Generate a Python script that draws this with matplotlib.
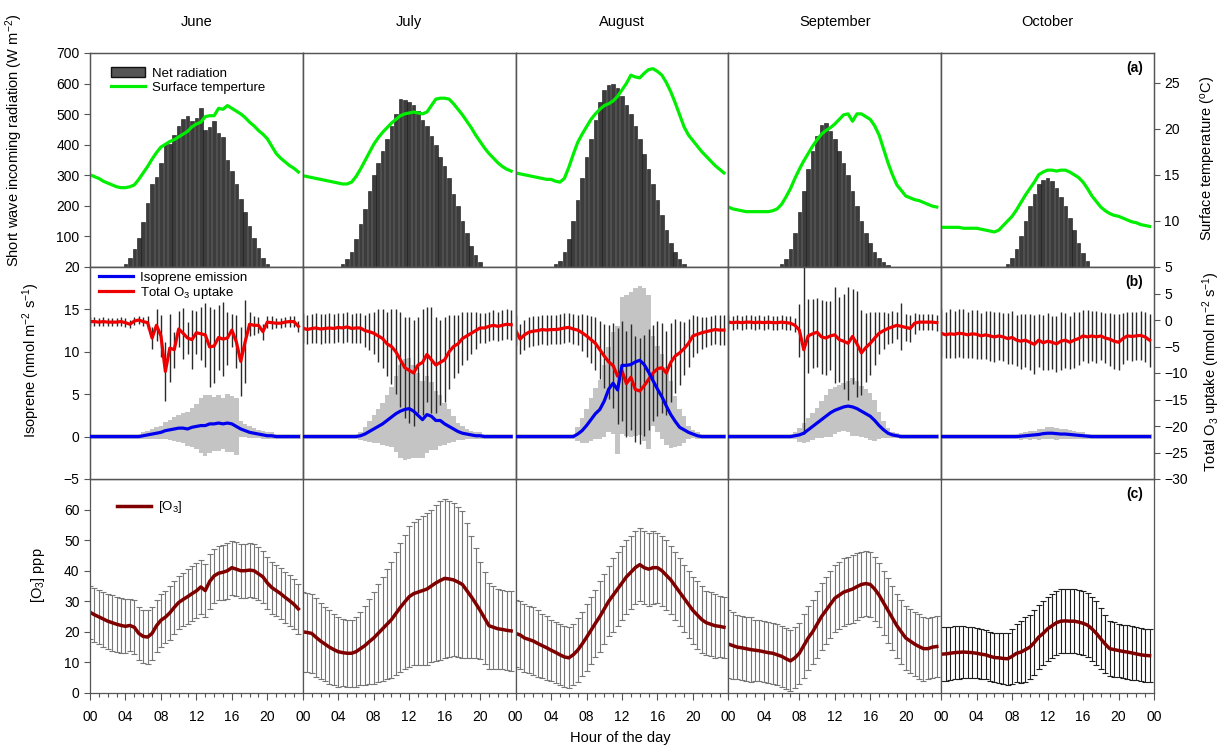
import numpy as np
import matplotlib
matplotlib.use('Agg')
import matplotlib.pyplot as plt
from matplotlib.lines import Line2D
from matplotlib.patches import Patch
from matplotlib.ticker import MultipleLocator

plt.rcParams['font.family'] = ['Liberation Sans', 'DejaVu Sans']
plt.rcParams['mathtext.fontset'] = 'custom'
plt.rcParams['mathtext.rm'] = 'Liberation Sans'
plt.rcParams['mathtext.it'] = 'Liberation Sans:italic'
plt.rcParams['mathtext.bf'] = 'Liberation Sans:bold'

months = ['June', 'July', 'August', 'September', 'October']
hours = np.arange(48) * 0.5
tick_hours = [0, 4, 8, 12, 16, 20]
tick_labels = ['00', '04', '08', '12', '16', '20']

def day(start_hour, values, fill=0.0):
    arr = np.full(48, fill)
    i = int(round(start_hour * 2))
    arr[i:i + len(values)] = values
    return arr

# ---------------- (a) net radiation (W m-2), daytime values from start hour
rad_jun = day(4.0, [11, 31, 59, 96, 147, 209, 272, 294, 341, 401, 401, 432, 460, 484, 495, 476, 488,
                    521, 449, 458, 478, 439, 426, 351, 315, 270, 223, 180, 134, 96, 62, 31, 9])
rad_jul = day(4.5, [10, 25, 50, 90, 140, 190, 250, 300, 340, 380, 420, 460, 500, 550, 545, 540, 530,
                    510, 480, 460, 430, 400, 360, 330, 290, 240, 200, 150, 110, 70, 40, 15])
rad_aug = day(4.5, [10, 20, 50, 90, 150, 220, 290, 360, 420, 480, 540, 580, 595, 600, 585, 560, 530,
                    500, 460, 420, 370, 320, 270, 220, 170, 120, 80, 50, 25, 10])
rad_sep = day(6.0, [10, 25, 60, 110, 180, 250, 320, 380, 430, 465, 470, 445, 420, 380, 340, 300, 250,
                    200, 150, 110, 80, 50, 30, 15, 5])
rad_oct = day(7.5, [10, 30, 60, 100, 150, 200, 240, 270, 285, 290, 280, 260, 230, 200, 160, 120, 80,
                    45, 20])

# surface temperature (deg C), half-hourly
temp_jun = [15.0, 14.8, 14.6, 14.3, 14.1, 13.9, 13.7, 13.6, 13.6, 13.7, 13.9, 14.5, 15.2, 15.9, 16.7, 17.4,
            18.0, 18.3, 18.6, 18.8, 19.1, 19.4, 19.7, 20.2, 20.5, 20.7, 21.3, 21.4, 21.4, 22.2, 22.1, 22.5,
            22.2, 21.9, 21.6, 21.2, 20.7, 20.3, 19.8, 19.4, 18.9, 18.1, 17.3, 16.8, 16.4, 16.0, 15.7, 15.3]
temp_jul = [14.9, 14.8, 14.7, 14.6, 14.5, 14.4, 14.3, 14.2, 14.1, 14.0, 14.0, 14.2, 14.8, 15.6, 16.5, 17.4,
            18.3, 19.0, 19.6, 20.1, 20.6, 21.0, 21.4, 21.6, 21.7, 21.8, 21.7, 21.6, 21.8, 22.5, 23.2, 23.3,
            23.3, 23.2, 22.7, 22.1, 21.5, 20.8, 20.1, 19.3, 18.6, 17.9, 17.3, 16.8, 16.3, 15.9, 15.6, 15.4]
temp_aug = [15.2, 15.1, 15.0, 14.9, 14.8, 14.7, 14.6, 14.5, 14.5, 14.3, 14.2, 14.6, 15.8, 17.2, 18.5, 19.4,
            20.2, 21.0, 21.6, 22.1, 22.5, 22.7, 23.0, 23.5, 24.2, 24.9, 25.8, 25.6, 25.5, 26.0, 26.4, 26.5,
            26.2, 25.8, 25.0, 24.0, 22.8, 21.5, 20.2, 19.3, 18.7, 18.1, 17.5, 17.0, 16.5, 16.0, 15.6, 15.2]
temp_sep = [11.5, 11.3, 11.2, 11.1, 11.0, 11.0, 11.0, 11.0, 11.0, 11.0, 11.1, 11.3, 11.8, 12.6, 13.5, 14.6,
            15.6, 16.5, 17.3, 18.1, 18.8, 19.4, 19.8, 20.1, 20.5, 21.0, 21.5, 21.6, 20.8, 21.6, 21.6, 21.3,
            21.0, 20.3, 19.3, 17.8, 16.3, 15.0, 13.9, 13.3, 12.7, 12.5, 12.3, 12.2, 12.0, 11.8, 11.6, 11.5]
temp_oct = [9.3, 9.3, 9.3, 9.3, 9.3, 9.2, 9.2, 9.2, 9.2, 9.1, 9.0, 8.9, 8.8, 9.0, 9.5, 10.0,
            10.5, 11.2, 12.0, 12.8, 13.5, 14.2, 15.0, 15.3, 15.5, 15.5, 15.4, 15.5, 15.5, 15.3, 15.0, 14.7,
            14.2, 13.5, 12.7, 12.1, 11.5, 11.1, 10.8, 10.6, 10.5, 10.3, 10.1, 9.9, 9.8, 9.6, 9.5, 9.4]

# ---------------- (b) isoprene emission (nmol m-2 s-1) and its SD
iso_jun = day(6.0, [0.1, 0.2, 0.3, 0.4, 0.5, 0.7, 0.8, 0.9, 1.0, 1.0, 0.9, 1.1, 1.2, 1.3, 1.3, 1.5, 1.5,
                    1.6, 1.5, 1.6, 1.5, 1.2, 0.9, 0.7, 0.5, 0.4, 0.3, 0.2, 0.1, 0.1])
iso_jul = day(6.5, [0.1, 0.3, 0.6, 0.9, 1.2, 1.5, 1.9, 2.3, 2.7, 3.0, 3.2, 3.3, 3.0, 2.5, 2.0, 2.6, 2.4,
                    1.9, 1.9, 1.5, 1.2, 0.9, 0.6, 0.4, 0.3, 0.2, 0.1, 0.1])
iso_aug = day(7.0, [0.3, 0.7, 1.3, 2.0, 2.7, 3.2, 4.2, 5.6, 6.3, 5.5, 8.4, 8.4, 8.5, 8.8, 9.0, 8.5, 7.6,
                    6.6, 5.6, 4.7, 3.6, 2.6, 1.8, 1.1, 0.8, 0.5, 0.3, 0.1])
iso_sep = day(7.5, [0.1, 0.2, 0.4, 0.8, 1.2, 1.6, 2.0, 2.4, 2.8, 3.1, 3.3, 3.5, 3.6, 3.5, 3.3, 3.0, 2.7,
                    2.4, 1.9, 1.3, 0.8, 0.4, 0.2, 0.1])
iso_oct = day(9.0, [0.05, 0.1, 0.15, 0.2, 0.25, 0.35, 0.4, 0.4, 0.35, 0.3, 0.3, 0.25, 0.2, 0.15, 0.1, 0.05])

isosd_jun = day(6.0, [0.4, 0.5, 0.6, 0.7, 0.8, 1.0, 1.2, 1.4, 1.6, 1.8, 2.0, 2.3, 2.7, 3.2, 3.6, 3.4,
                      3.2, 3.3, 3.0, 3.4, 3.3, 3.4, 0.9, 0.8, 0.7, 0.6, 0.5, 0.5, 0.4, 0.4], fill=0.3)
isosd_jul = day(6.5, [0.5, 0.8, 1.2, 1.6, 2.0, 2.5, 3.0, 3.5, 4.5, 5.5, 6.0, 6.0, 5.5, 5.0, 4.5, 4.5,
                      4.0, 3.5, 3.0, 2.5, 2.0, 1.5, 1.0, 0.8, 0.6, 0.5, 0.4, 0.4], fill=0.3)
isosd_aug = day(7.0, [0.8, 1.5, 2.0, 2.5, 3.0, 3.5, 4.2, 5.0, 6.0, 7.5, 8.1, 8.3, 8.6, 8.7, 8.8, 9.0,
                      9.1, 5.3, 5.1, 5.0, 4.6, 4.0, 3.0, 2.2, 1.6, 0.8, 0.5, 0.4], fill=0.3)
isosd_sep = day(7.5, [0.4, 0.8, 1.2, 1.4, 1.6, 1.8, 2.2, 2.5, 2.8, 2.8, 2.8, 2.8, 3.0, 3.4, 3.2, 3.0,
                      2.9, 2.8, 2.4, 1.6, 1.0, 0.6, 0.4, 0.3], fill=0.3)
isosd_oct = day(9.0, [0.4, 0.4, 0.5, 0.5, 0.6, 0.6, 0.7, 0.7, 0.7, 0.6, 0.6, 0.5, 0.5, 0.4, 0.4,
                      0.3], fill=0.3)

# total O3 uptake (nmol m-2 s-1) and error
up_jun = [-0.3, -0.3, -0.4, -0.3, -0.4, -0.4, -0.4, -0.3, -0.5, -0.8, -0.2, 0.0, -0.3, -0.5, -3.4, -1.0,
          -3.0, -9.7, -5.3, -5.6, -1.7, -2.5, -3.4, -3.7, -2.4, -2.6, -2.8, -5.1, -4.9, -3.3, -3.6, -3.4,
          -1.9, -4.1, -7.8, -4.1, -0.8, -1.0, -1.0, -2.2, -0.4, -0.5, -0.6, -0.6, -0.4, -0.3, -0.3, -1.2]
up_jul = [-1.5, -1.8, -1.6, -1.5, -1.7, -1.6, -1.5, -1.6, -1.4, -1.5, -1.3, -1.6, -1.5, -1.5, -2.0, -2.2,
          -2.5, -3.0, -3.5, -4.5, -5.0, -6.0, -7.5, -9.0, -9.5, -10.0, -8.5, -8.0, -6.5, -7.5, -8.5, -8.0,
          -7.5, -6.0, -5.0, -4.5, -3.5, -3.0, -2.5, -2.0, -1.5, -1.5, -1.2, -1.0, -1.2, -1.0, -0.8, -0.9]
up_aug = [-1.9, -3.6, -2.8, -2.3, -2.1, -2.0, -1.8, -1.9, -1.8, -1.8, -1.7, -1.5, -1.4, -1.7, -1.9, -2.4,
          -3.0, -3.7, -4.4, -5.6, -6.8, -7.9, -8.6, -10.6, -9.6, -12.0, -10.8, -13.1, -13.4, -12.4, -11.2, -10.0,
          -9.2, -9.0, -10.0, -8.0, -6.8, -6.2, -5.4, -4.4, -3.0, -2.7, -2.4, -2.2, -2.0, -1.8, -1.9, -1.9]
up_sep = [-0.4, -0.5, -0.4, -0.5, -0.4, -0.4, -0.5, -0.4, -0.5, -0.4, -0.5, -0.5, -0.4, -0.5, -0.6, -1.0,
          -1.9, -5.6, -3.0, -2.6, -2.3, -3.2, -3.4, -3.0, -2.8, -3.7, -4.0, -4.4, -3.1, -4.5, -6.2, -5.2,
          -4.4, -3.4, -2.5, -2.0, -1.6, -1.3, -1.0, -1.2, -1.4, -1.6, -0.6, -0.4, -0.4, -0.4, -0.4, -0.5]
up_oct = [-2.5, -2.8, -2.6, -2.7, -2.5, -2.6, -2.8, -2.6, -2.7, -3.0, -2.8, -3.0, -3.2, -3.0, -3.2, -3.5,
          -3.3, -3.8, -4.0, -3.8, -4.2, -4.6, -3.8, -4.3, -4.0, -4.2, -4.5, -4.0, -3.8, -4.2, -3.8, -3.5,
          -3.0, -3.2, -3.0, -3.2, -3.0, -3.4, -3.6, -4.0, -4.2, -3.5, -3.0, -3.1, -3.0, -2.9, -3.2, -3.8]

uperr_jun = day(6.5, [1.2, 2.0, 3.0, 4.0, 5.5, 6.4, 3.4, 3.4, 4.8, 3.1, 5.6, 4.1, 5.0, 6.0, 7.5, 6.9,
                      6.1, 7.0, 5.0, 3.1, 5.0, 6.5, 7.8, 2.3, 1.8, 1.5, 1.5, 1.2, 1.2, 1.0, 1.0, 1.0,
                      1.0, 1.0, 1.0], fill=0.8)
uperr_jul = day(7.0, [3, 3.5, 4, 5, 5.5, 6, 7, 8, 9, 9.5, 10, 10, 9, 10, 9, 10, 9, 8, 8, 7, 6, 5.5,
                      5, 4.5, 4, 3.5], fill=2.8)
uperr_aug = day(7.5, [3.5, 4, 4.5, 5, 5.5, 6, 7, 8, 9, 9.5, 10, 10, 10, 10, 9.5, 9.5, 9, 9, 8.5, 8,
                      7.5, 7, 6, 5, 4.5, 4, 3.5, 3], fill=2.8)
uperr_sep = day(8.0, [5, 16, 7, 6.5, 6.5, 7, 7, 6.5, 9, 8, 9, 10.6, 9, 10, 8, 6.5, 6, 5, 4, 3.5, 3, 3,
                      2.5, 4.5, 2.5, 2.5, 2, 1.5, 1.5, 1.5, 1.5, 1.5], fill=1.3)
uperr_oct = [4.5, 4.3, 4.6, 4.4, 4.5, 4.6, 4.3, 4.5, 4.6, 4.4, 4.5, 4.7, 4.8, 4.5, 4.6, 4.8,
             5.0, 4.8, 5.2, 5.0, 5.3, 5.5, 5.0, 5.2, 5.4, 5.0, 5.3, 5.5, 5.2, 5.0, 5.3, 5.0,
             4.8, 5.0, 4.7, 4.9, 4.6, 4.8, 5.0, 5.2, 5.3, 4.8, 4.6, 4.7, 4.5, 4.6, 4.8, 5.0]

# ---------------- (c) ozone concentration and error
o3_jun = [26.4, 25.6, 24.9, 24.2, 23.5, 23.0, 22.5, 22.1, 21.8, 22.1, 21.5, 19.5, 18.5, 18.3, 19.5, 22.0,
          23.8, 24.8, 26.2, 28.0, 29.6, 30.6, 31.5, 32.5, 33.4, 34.7, 33.5, 36.5, 38.3, 39.2, 39.5, 40.0,
          41.0, 40.5, 40.0, 40.0, 40.2, 40.0, 39.0, 38.0, 36.0, 34.5, 33.5, 32.5, 31.3, 30.2, 29.0, 27.5]
o3_jul = [20.0, 19.8, 19.5, 18.2, 17.0, 16.0, 15.0, 14.2, 13.5, 13.2, 13.0, 13.0, 13.5, 14.5, 15.5, 16.8,
          18.0, 19.5, 21.0, 22.5, 24.0, 26.0, 28.0, 29.8, 31.5, 32.5, 33.0, 33.5, 34.0, 35.0, 36.0, 36.8,
          37.5, 37.3, 37.0, 36.3, 35.5, 33.5, 31.5, 29.3, 27.0, 24.5, 22.0, 21.5, 21.0, 20.8, 20.5, 20.3]
o3_aug = [19.5, 19.0, 18.0, 17.5, 17.0, 16.2, 15.5, 14.8, 14.0, 13.3, 12.5, 11.8, 11.5, 12.5, 14.0, 16.0,
          18.2, 20.5, 22.8, 25.0, 27.5, 30.0, 32.0, 34.0, 36.0, 38.0, 39.5, 41.0, 42.0, 41.0, 40.5, 41.0,
          41.0, 40.0, 38.5, 37.0, 35.0, 33.0, 31.0, 29.0, 27.0, 25.5, 24.0, 23.0, 22.5, 22.0, 21.8, 21.5]
o3_sep = [16.0, 15.5, 15.0, 14.8, 14.5, 14.2, 14.0, 13.8, 13.5, 13.2, 13.0, 12.5, 12.0, 11.2, 10.5, 11.5,
          13.0, 15.5, 18.0, 20.0, 22.5, 25.0, 27.0, 29.0, 31.0, 32.0, 33.0, 33.5, 34.0, 34.8, 35.5, 35.8,
          35.5, 34.0, 32.0, 29.5, 27.0, 24.5, 22.0, 20.0, 18.0, 17.0, 16.0, 15.2, 14.5, 14.5, 15.0, 15.2]
o3_oct = [12.7, 12.8, 13.0, 13.2, 13.3, 13.4, 13.3, 13.2, 13.0, 12.7, 12.5, 12.0, 11.6, 11.5, 11.3, 11.2,
          12.0, 13.0, 13.4, 14.2, 15.0, 16.5, 18.3, 19.5, 21.0, 22.0, 23.0, 23.5, 23.6, 23.5, 23.5, 23.2,
          22.8, 22.2, 21.0, 19.5, 17.7, 16.0, 14.5, 14.2, 13.9, 13.6, 13.4, 13.1, 12.8, 12.5, 12.3, 12.2]

o3err_jun = [8.7, 8.8, 8.9, 9.0, 9.0, 9.1, 9.0, 8.9, 8.8, 8.5, 8.8, 8.7, 8.8, 8.8, 8.6, 8.5,
             8.6, 8.6, 8.7, 8.7, 8.8, 8.8, 8.9, 8.9, 9.0, 8.9, 8.8, 8.9, 8.8, 8.9, 9.0, 9.1,
             8.8, 8.9, 8.8, 8.9, 8.8, 8.8, 8.7, 8.6, 8.5, 8.5, 8.4, 8.4, 8.3, 8.3, 8.2, 8.2]
o3err_jul = [13, 13, 13, 13, 12.5, 12, 12, 11.5, 11.5, 11, 11, 11, 11.5, 12, 13, 14,
             15, 16, 17, 18, 19, 20, 21, 22, 23, 23.5, 24, 24.5, 25, 25, 25.5, 26,
             26, 25.5, 25, 24.5, 24, 22, 20, 18, 16, 15, 14, 13.5, 13, 13, 13, 13]
o3err_aug = [11, 11, 11, 11, 11, 11, 10.5, 10.5, 10, 10, 10, 10, 10, 10, 10.5, 10.5,
             11, 11, 11, 11.5, 11.5, 11.5, 12, 12, 12, 12, 12, 12, 12, 12, 12, 12,
             11.5, 11.5, 11.5, 11, 11, 11, 11, 11, 11, 11, 11, 10.5, 10.5, 10.5, 10, 10]
o3err_sep = [11, 11, 10.5, 10.5, 10.5, 10.5, 10, 10, 10, 10, 10, 10, 10, 10, 10, 10,
             10, 10.5, 10.5, 10.5, 11, 11, 11, 11, 11, 11, 11, 11, 11, 11, 10.5, 10.5,
             10.5, 10.5, 10.5, 10.5, 10.5, 10.5, 10.5, 10.5, 10.5, 10.5, 10.5, 10.5, 10.5, 10, 10, 10]
o3err_oct = [8.8, 8.8, 8.7, 8.7, 8.6, 8.5, 8.4, 8.3, 8.2, 8.1, 8.0, 8.0, 8.0, 8.1, 8.2, 8.5,
             9.0, 9.5, 10.0, 10.5, 10.5, 10.5, 10.5, 10.5, 10.5, 10.5, 10.5, 10.5, 10.5, 10.5, 10.5, 10.5,
             10.5, 10.5, 10.5, 10.5, 10.0, 9.5, 9.0, 9.0, 8.8, 8.8, 8.8, 8.7, 8.7, 8.7, 8.7, 8.7]

rad = [rad_jun, rad_jul, rad_aug, rad_sep, rad_oct]
temp = [temp_jun, temp_jul, temp_aug, temp_sep, temp_oct]
iso = [iso_jun, iso_jul, iso_aug, iso_sep, iso_oct]
isosd = [isosd_jun, isosd_jul, isosd_aug, isosd_sep, isosd_oct]
up = [up_jun, up_jul, up_aug, up_sep, up_oct]
uperr = [uperr_jun, uperr_jul, uperr_aug, uperr_sep, uperr_oct]
o3 = [o3_jun, o3_jul, o3_aug, o3_sep, o3_oct]
o3err = [o3err_jun, o3err_jul, o3err_aug, o3err_sep, o3err_oct]

# ---------------- styling
GREEN = '#00ee00'
BLUE = '#0000ee'
RED = '#ee0000'
DRED = '#800000'
SPINE = '#555555'
FS = 10
LFS = 10.5

fig = plt.figure(figsize=(12.24, 7.48), dpi=100)
L0 = 90 / 1224
W = 212.8 / 1224
rows = {'a': (1 - 267 / 748, 214 / 748), 'b': (1 - 479 / 748, 212 / 748), 'c': (1 - 693 / 748, 214 / 748)}


def style(ax):
    for sp in ax.spines.values():
        sp.set_color(SPINE)
        sp.set_linewidth(0.9)
    ax.tick_params(which='both', direction='out', labelsize=FS, color=SPINE, length=4, width=0.8)


for k in range(5):
    left = L0 + k * W
    axa = fig.add_axes([left, rows['a'][0], W, rows['a'][1]])
    axat = axa.twinx()
    axb = fig.add_axes([left, rows['b'][0], W, rows['b'][1]], zorder=1)
    axbt = axb.twinx()
    axbt.set_zorder(2)
    # transparent overlay sharing the isoprene scale, so the blue line sits on top
    axbb = fig.add_axes([left, rows['b'][0], W, rows['b'][1]], sharex=axb, sharey=axb, zorder=3)
    axbb.patch.set_visible(False)
    axbb.axis('off')
    axc = fig.add_axes([left, rows['c'][0], W, rows['c'][1]])

    # (a)
    axa.bar(hours, rad[k], width=0.40, color='#3c3c3c', edgecolor='#111111', linewidth=0.4)
    axa.set_ylim(0, 700)
    axat.plot(hours, temp[k], color=GREEN, lw=2.3)
    axat.set_ylim(5, 28.2)

    # (b)
    iso_k = np.asarray(iso[k])
    sd_k = np.asarray(isosd[k])
    axb.bar(hours, 2 * sd_k, bottom=iso_k - sd_k, width=0.5, color='#c4c4c4', linewidth=0)
    axbb.plot(hours, iso_k, color=BLUE, lw=2.3)
    axb.set_ylim(-5, 20)
    axbt.errorbar(hours, up[k], yerr=uperr[k], fmt='none', ecolor='#2a2a2a', elinewidth=1.0)
    axbt.plot(hours, up[k], color=RED, lw=2.3)
    axbt.set_ylim(-30, 10)

    # (c)
    ecol = '#202020' if k == 4 else '#777777'
    axc.errorbar(hours, o3[k], yerr=o3err[k], fmt='none', ecolor=ecol, elinewidth=0.8,
                 capsize=2.5, capthick=0.8)
    axc.plot(hours, o3[k], color=DRED, lw=2.5)
    axc.set_ylim(0, 70)

    for ax in (axa, axat, axb, axbt, axc):
        ax.set_xlim(0, 24)
        style(ax)
    for ax in (axa, axat, axb, axbt):
        ax.tick_params(axis='x', which='both', bottom=False, labelbottom=False)

    xt = tick_hours + ([24] if k == 4 else [])
    xl = tick_labels + (['00'] if k == 4 else [])
    axc.set_xticks(xt)
    axc.set_xticklabels(xl)
    axc.xaxis.set_minor_locator(MultipleLocator(1))
    axc.tick_params(axis='x', which='major', length=5, pad=7)
    axc.tick_params(axis='x', which='minor', length=3)

    axa.set_yticks([100, 200, 300, 400, 500, 600, 700])
    axat.set_yticks([5, 10, 15, 20, 25])
    axb.set_yticks([-5, 0, 5, 10, 15, 20])
    axbt.set_yticks([-30, -25, -20, -15, -10, -5, 0, 5])
    axc.set_yticks([0, 10, 20, 30, 40, 50, 60])

    if k != 0:
        for ax in (axa, axb, axc):
            ax.tick_params(axis='y', left=False, labelleft=False)
    if k != 4:
        for ax in (axat, axbt):
            ax.tick_params(axis='y', right=False, labelright=False)

    fig.text(left + W / 2, 1 - 22 / 748, months[k], ha='center', va='center', fontsize=10.5)

    if k == 4:
        for ax, lab in ((axat, '(a)'), (axbb, '(b)'), (axc, '(c)')):
            ax.text(0.95, 0.93, lab, transform=ax.transAxes, ha='right', va='center',
                    fontsize=FS, fontweight='bold')

    if k == 0:
        h1 = [Patch(facecolor='#555555', edgecolor='#111111'), Line2D([], [], color=GREEN, lw=2.3)]
        axat.legend(h1, ['Net radiation', 'Surface temperture'], loc='upper left', frameon=False,
                    fontsize=9.5, handlelength=2.6, handletextpad=0.5, borderaxespad=0.2,
                    bbox_to_anchor=(0.06, 0.97), labelspacing=0.15)
        h2 = [Line2D([], [], color=BLUE, lw=2.3), Line2D([], [], color=RED, lw=2.3)]
        axbb.legend(h2, ['Isoprene emission', 'Total O$_3$ uptake'], loc='upper left', frameon=False,
                    fontsize=9.5, handlelength=2.6, handletextpad=0.5, borderaxespad=0.1,
                    bbox_to_anchor=(0.01, 1.01), labelspacing=0.1)
        h3 = [Line2D([], [], color=DRED, lw=2.5)]
        axc.legend(h3, ['[O$_3$]'], loc='upper left', frameon=False, fontsize=9.5, handlelength=2.6,
                   handletextpad=0.5, bbox_to_anchor=(0.07, 0.96))

# axis labels
fig.text(14 / 1224, 1 - 140 / 748, 'Short wave incoming radiation (W m$^{-2}$)', rotation=90,
         ha='center', va='center', fontsize=LFS)
fig.text(31 / 1224, 1 - 360 / 748, 'Isoprene (nmol m$^{-2}$ s$^{-1}$)', rotation=90,
         ha='center', va='center', fontsize=LFS)
fig.text(38 / 1224, 1 - 575 / 748, '[O$_3$] ppp', rotation=90, ha='center', va='center', fontsize=LFS)
fig.text(1208 / 1224, 1 - 158 / 748, 'Surface temperature ($^{\\rm o}$C)', rotation=90,
         ha='center', va='center', fontsize=LFS)
fig.text(1211 / 1224, 1 - 372 / 748, 'Total O$_3$ uptake (nmol m$^{-2}$ s$^{-1}$)', rotation=90,
         ha='center', va='center', fontsize=LFS)
fig.text(620 / 1224, 1 - 738 / 748, 'Hour of the day', ha='center', va='center', fontsize=LFS)

fig.savefig('out.png', dpi=100)
